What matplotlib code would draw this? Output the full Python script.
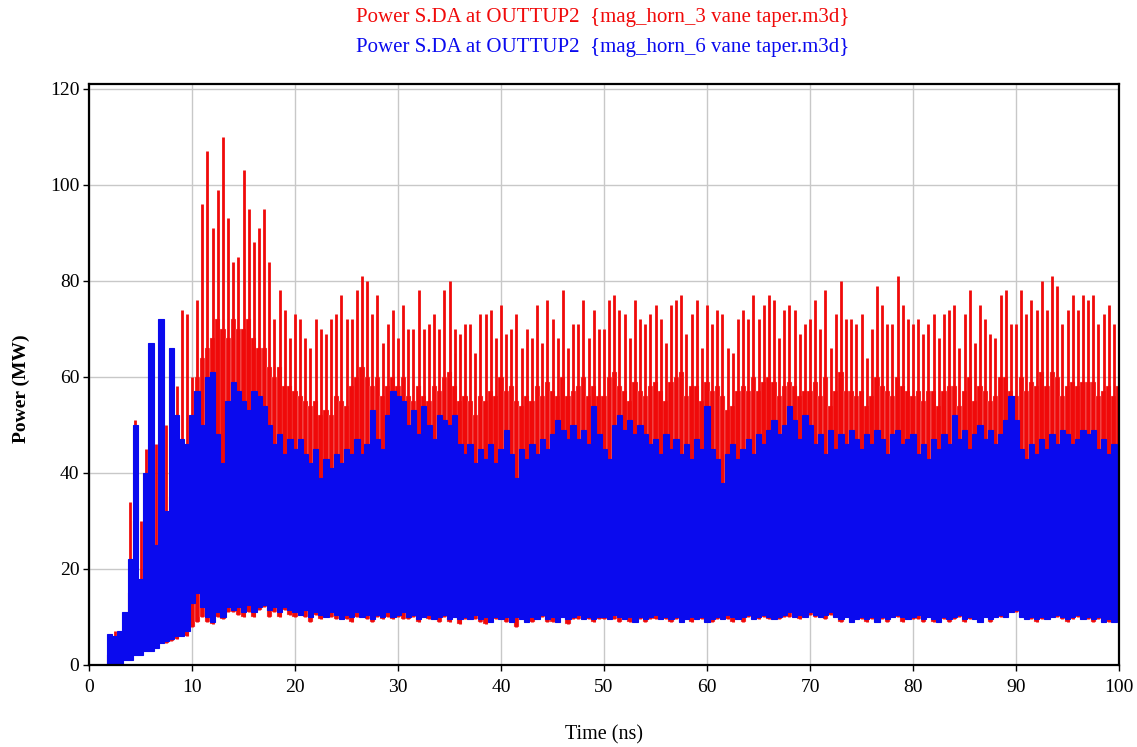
import matplotlib
matplotlib.use('Agg')
import numpy as np
import matplotlib.pyplot as plt

plt.rcParams['font.family'] = ['Liberation Serif', 'DejaVu Serif']

# Sampled every 0.5 ns from 0 to 100 ns
T_STEP = 0.5

# Power (MW) for the 3-vane taper run: spike tops, top of the dense band, bottom
RED_PEAK = [
    0, 0, 0, 0, 3, 7, 6, 11, 34, 51, 30, 45, 61, 46, 62, 50, 60, 58, 74, 73,
    60, 76, 96, 107, 91, 99, 110, 93, 84, 85, 103, 95, 88, 91, 95, 84, 72, 78, 74, 68,
    73, 72, 68, 66, 72, 70, 69, 72, 73, 77, 72, 72, 78, 81, 80, 73, 77, 67, 71, 74,
    68, 75, 70, 70, 78, 70, 71, 73, 70, 78, 80, 70, 69, 71, 71, 65, 73, 73, 74, 68,
    75, 69, 70, 73, 66, 70, 68, 75, 67, 76, 72, 68, 78, 66, 71, 71, 76, 68, 74, 70,
    70, 76, 77, 74, 73, 68, 76, 72, 71, 73, 75, 72, 67, 75, 76, 77, 69, 73, 76, 66,
    75, 71, 74, 73, 66, 65, 72, 74, 72, 77, 72, 75, 77, 76, 68, 74, 75, 74, 69, 71,
    72, 76, 70, 78, 66, 73, 80, 72, 72, 71, 73, 64, 70, 79, 75, 71, 71, 81, 75, 72,
    71, 72, 69, 71, 73, 68, 73, 74, 75, 66, 73, 78, 67, 75, 72, 69, 68, 77, 78, 71,
    71, 78, 73, 76, 74, 80, 74, 81, 79, 71, 74, 77, 74, 77, 76, 77, 71, 73, 75, 71, 74,
]
RED_BODY = [
    0, 0, 0, 0, 2, 4, 4, 7, 15, 30, 14, 25, 30, 25, 30, 25, 35, 35, 40, 42,
    50, 60, 64, 66, 68, 72, 70, 68, 72, 70, 70, 72, 68, 66, 66, 62, 60, 62, 58, 58,
    57, 56, 55, 54, 55, 52, 53, 52, 56, 55, 54, 58, 60, 62, 60, 58, 60, 56, 58, 60,
    58, 60, 56, 55, 58, 56, 55, 58, 57, 60, 61, 58, 55, 56, 55, 52, 56, 55, 57, 56,
    60, 57, 58, 55, 54, 56, 55, 58, 56, 59, 57, 56, 60, 56, 57, 58, 60, 56, 58, 56,
    56, 60, 61, 58, 57, 55, 59, 57, 56, 58, 59, 57, 55, 59, 60, 61, 56, 58, 58, 55,
    59, 57, 58, 56, 53, 54, 57, 58, 57, 60, 57, 59, 60, 59, 56, 58, 59, 58, 56, 57,
    57, 59, 56, 60, 54, 57, 61, 57, 57, 56, 57, 54, 56, 60, 58, 57, 56, 60, 58, 57,
    56, 57, 55, 57, 57, 54, 57, 58, 58, 54, 57, 60, 55, 58, 57, 55, 56, 60, 60, 57,
    56, 60, 57, 59, 58, 61, 58, 61, 60, 56, 58, 59, 58, 59, 59, 59, 56, 57, 58, 56, 58,
]
RED_FLOOR = [
    0, 0, 0, 0, 0, 0.3, 0.3, 1, 1, 2, 2, 3, 3, 3.5, 4.5, 4.5, 5, 5.5, 6, 6,
    8, 9, 10, 9, 8.5, 10, 9.5, 11, 11, 10.5, 10, 11, 10, 11.5, 12, 10, 11, 10, 11.5, 10.5,
    10, 10.5, 10, 9, 10.5, 9.5, 10, 10, 9.5, 9.5, 9.5, 9, 10, 10, 9.5, 9, 10, 9.5, 10, 9.5,
    10, 9.5, 9.5, 10, 9, 10, 9.5, 9.5, 9, 10, 9, 10, 8.5, 9.5, 9.5, 9.5, 9, 8.5, 9, 9.5,
    9.5, 9, 9, 8, 9.5, 9, 9, 9.5, 10, 9, 9, 9, 10, 8.5, 9.5, 9.5, 9.5, 9.5, 9, 9.5,
    9.5, 9.5, 9.5, 9, 9.5, 9, 9, 9.5, 9, 9.5, 9.5, 9.5, 9.5, 9, 9.5, 9, 9.5, 9, 9.5, 9.5,
    9, 9, 9.5, 9.5, 9.5, 9, 9.5, 9, 10, 9.5, 9.5, 10, 9.5, 9.5, 9.5, 10, 10, 10, 9.5, 10,
    10.5, 10, 10, 9.5, 10.5, 10, 9, 10, 9, 9.5, 9.5, 9, 9.5, 9, 9.5, 9, 10, 10, 9, 9.5,
    9.5, 9.5, 9, 10, 9, 9, 9.5, 9, 9.5, 10, 9, 9.5, 9.5, 9, 10, 9, 10, 10, 10, 11,
    11, 10, 9.5, 9.5, 9, 9.5, 9.5, 10, 10, 9.5, 9, 9.5, 10, 9.5, 9.5, 9, 9.5, 9, 9, 9, 9,
]

# Power (MW) for the 6-vane taper run: top and bottom of the band
BLUE_PEAK = [
    0, 0, 0, 0, 6.5, 6, 7, 11, 22, 50, 18, 40, 67, 25, 72, 32, 66, 52, 47, 46,
    52, 57, 50, 60, 61, 48, 42, 55, 59, 57, 55, 53, 57, 56, 54, 50, 46, 48, 44, 47,
    45, 47, 44, 42, 45, 39, 43, 41, 44, 42, 45, 44, 47, 44, 46, 53, 47, 45, 52, 57,
    56, 55, 50, 53, 48, 54, 50, 47, 52, 51, 50, 52, 46, 44, 46, 42, 45, 43, 46, 42,
    45, 49, 44, 39, 45, 43, 46, 44, 47, 45, 48, 51, 49, 47, 50, 47, 49, 46, 54, 48,
    45, 43, 50, 52, 49, 51, 48, 50, 48, 46, 47, 44, 48, 45, 47, 44, 46, 43, 47, 45,
    54, 45, 43, 38, 44, 46, 43, 45, 47, 44, 48, 46, 49, 51, 48, 50, 54, 51, 47, 52,
    50, 46, 48, 44, 49, 45, 48, 46, 49, 47, 45, 48, 46, 49, 47, 44, 48, 49, 46, 47,
    48, 44, 46, 43, 47, 45, 48, 46, 52, 47, 49, 45, 48, 50, 47, 49, 46, 48, 51, 56,
    51, 45, 43, 46, 44, 47, 45, 48, 46, 49, 48, 46, 47, 49, 48, 49, 45, 47, 44, 46, 45,
]
BLUE_FLOOR = [
    0, 0, 0, 0, 0, 0.3, 0.3, 1, 1, 2, 2, 3, 3, 3.5, 4.5, 5, 5.5, 6, 6, 7,
    13, 15, 12, 10, 9, 11, 10, 12, 11.5, 12, 11, 12.5, 11, 12, 12.5, 11.5, 12, 11, 12, 11.5,
    11, 10.5, 11.5, 10, 11, 10.5, 10, 11, 10.5, 9.5, 10.5, 10, 11, 10, 10.5, 9.5, 10.5, 10, 11, 10,
    10.5, 11, 10, 10.5, 9.5, 10, 10.5, 9.5, 10, 10.5, 9.5, 10, 9.5, 10, 9.5, 10.5, 9.5, 10, 9, 10,
    9.5, 10, 9, 10, 9.5, 9, 10, 9.5, 10.5, 9.5, 10, 9, 10, 9.5, 10, 10.5, 9.5, 10, 9.5, 10,
    10, 9.5, 10.5, 10, 9.5, 10, 9, 10, 9.5, 10, 10.5, 9.5, 10, 9.5, 10, 9, 9.5, 10, 9.5, 10,
    9, 9.5, 10, 9.5, 10.5, 10, 9.5, 10, 10.5, 9.5, 10, 10.5, 10, 9.5, 10, 10.5, 11, 10, 10.5, 10,
    11, 10.5, 10, 10.5, 11, 10, 9.5, 10, 9, 9.5, 10, 9.5, 10, 9, 10, 9.5, 10, 10.5, 10, 9.5,
    10, 10.5, 9.5, 10, 9.5, 9, 10, 9.5, 10, 10.5, 9.5, 10, 9.5, 9, 10, 9.5, 10, 10.5, 10, 11,
    11.5, 10, 9.5, 10, 9.5, 10, 9.5, 10, 10.5, 10, 9.5, 10, 10.5, 9.5, 10, 9.5, 10, 9, 9.5, 9, 9.5,
]

RED = '#f00a0a'
BLUE = '#0a0aee'

time_ns = np.arange(len(RED_PEAK)) * T_STEP
red_peak = np.array(RED_PEAK, dtype=float)
red_body = np.array(RED_BODY, dtype=float)
red_floor = np.array(RED_FLOOR, dtype=float)
blue_peak = np.array(BLUE_PEAK, dtype=float)
blue_floor = np.array(BLUE_FLOOR, dtype=float)

fig = plt.figure(figsize=(11.37, 7.47), dpi=100)
ax = fig.add_axes([0.0783, 0.1098, 0.9059, 0.7778])

ax.grid(True, color='#c8c8c8', linewidth=1.0, zorder=0)
ax.set_axisbelow(True)

# red trace: dense band (light seams between samples) plus the spikes
ax.bar(time_ns, red_body - red_floor, bottom=red_floor, width=T_STEP,
       color=RED, edgecolor='#f7c0c0', linewidth=0.25, zorder=2)
ax.vlines(time_ns, red_floor, red_peak, color=RED, linewidth=2.0, zorder=3)

# blue trace on top
ax.bar(time_ns, blue_peak - blue_floor, bottom=blue_floor, width=T_STEP * 1.04,
       color=BLUE, edgecolor=BLUE, linewidth=0.8, zorder=4)

ax.set_xlim(0, 100)
ax.set_ylim(0, 121)
ax.set_xticks(np.arange(0, 101, 10))
ax.set_yticks(np.arange(0, 121, 20))
ax.tick_params(direction='out', length=4, width=1, labelsize=14, pad=3, colors='black')
ax.tick_params(axis='x', pad=6)
for s in ax.spines.values():
    s.set_linewidth(1.6)
    s.set_color('black')
    s.set_zorder(6)

ax.set_xlabel('Time (ns)', fontsize=14.5, va='center')
ax.set_ylabel('Power (MW)', fontsize=14, fontweight='bold')
ax.xaxis.set_label_coords(0.5, -0.121)
ax.yaxis.set_label_coords(-0.057, 0.476)

fig.text(0.530, 0.977, 'Power S.DA at OUTTUP2  {mag_horn_3 vane taper.m3d}',
         color=RED, fontsize=15, ha='center', va='center')
fig.text(0.530, 0.937, 'Power S.DA at OUTTUP2  {mag_horn_6 vane taper.m3d}',
         color=BLUE, fontsize=15, ha='center', va='center')

fig.savefig('out.png', dpi=100)
